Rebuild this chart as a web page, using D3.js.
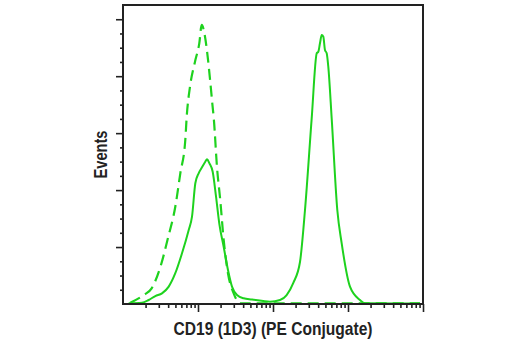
<!DOCTYPE html>
<html>
<head>
<meta charset="utf-8">
<script src="https://cdn.jsdelivr.net/npm/d3@7"></script>
<style>
    body { margin: 0; background: #fff; }
    .lbl { font-family: "Liberation Sans", Arial, sans-serif;
           font-weight: bold; fill: #222; }
</style>
</head>
<body>
<svg id="chart" width="520" height="350"></svg>
<script>
// CD19 (1D3) flow histogram, log x / linear counts
const xLabel = 'CD19 (1D3) (PE Conjugate)';
const yLabel = 'Events';

// stained sample (solid) : intensity, events
const stainedX = [1.19, 1.79, 2.2, 2.7, 3.31, 4.07, 4.98, 6.12, 7.52, 8.32, 9.21, 10.2, 11.3, 12.5, 13.2, 14.2,
    15.7, 17.4, 19.2, 22, 25.1, 28.4, 33.1, 40.6, 52.5, 91.2, 124, 152, 186, 229, 267, 328, 383, 402, 423,
    446, 469, 493, 520, 546, 606, 720, 824, 1063, 1445, 1686, 9120];
const stainedY = [0.5, 0.9, 2.8, 5.6, 7.5, 12.2, 21.6, 35.6, 52, 61.3, 84.8, 91.8, 96, 99.9, 101.6, 98.8,
    92.9, 75.4, 56.7, 40.2, 23.9, 12.2, 6.3, 4, 3.2, 1.6, 2.8, 6.3, 14.7, 29.5, 66, 130.4, 176.1, 177.2, 183.1,
    188.9, 187.7, 178.4, 176.1, 166.7, 130.4, 66, 42.6, 12.2, 2.8, 0.5, 0.3];

// isotype control (dashed)
const controlX = [1.25, 1.89, 2.41, 3.11, 4.02, 4.98, 5.81, 6.77, 7.07, 7.82, 9.12, 10.4, 11.2, 12.4, 13.3,
    14.5, 15.5, 16.3, 17.9, 19.8, 22, 25.1, 29.9, 36.6, 229, 9120];
const controlY = [0.9, 6.3, 11, 25.1, 47.3, 68.3, 91.8, 115.2, 131.5, 152.6, 170.2, 183.1, 196, 187.7, 176.1,
    157.3, 141, 129.2, 96.4, 73, 45, 21.6, 7.5, 0.5, 0.5, 0.5];

const yMajor = [40, 80, 120, 160, 200];

const margin = {top: 5, left: 123, right: 97, bottom: 46};
const width = 520 - margin.left - margin.right;
const height = 350 - margin.top - margin.bottom;
const green = '#1ed21e';

const svg = d3.select('#chart');
const g = svg.append('g').attr('transform', `translate(${margin.left},${margin.top})`);

const x = d3.scaleLog().domain([1, 1e4]).range([0, width]);
const y = d3.scaleLinear().domain([0, 210]).range([height, 0]);

// log ticks: 2..9 minor, decades major
var xMinor = [], xMaj = [];
[1, 10, 100, 1000].forEach(function(dec) {
    for (var k = 2; k <= 9; k++) xMinor.push(k * dec);
    xMaj.push(dec * 10);
});
var yMinor = d3.range(10, 210, 10).filter(d => d % 40 !== 0);

const line = d3.line()
    .x((d, i) => x(d[0]))
    .y(d => y(d[1]))
    .curve(d3.curveMonotoneX);

g.append('path')
    .datum(d3.zip(controlX, controlY))
    .attr('d', line)
    .attr('fill', 'none')
    .attr('stroke', green)
    .attr('stroke-width', 2.2)
    .attr('stroke-dasharray', '11,6');

g.append('path')
    .datum(d3.zip(stainedX, stainedY))
    .attr('d', line)
    .attr('fill', 'none')
    .attr('stroke', green)
    .attr('stroke-width', 2);

// axes
function axisStyle(sel) {
    sel.select('.domain').remove();
    sel.selectAll('line').attr('stroke', '#222').attr('stroke-width', 1.6);
    sel.selectAll('text').remove();
}

g.append('g').attr('transform', `translate(0,${height})`)
    .call(d3.axisBottom(x).tickValues(xMinor).tickSize(4).tickFormat(''))
    .call(axisStyle);
g.append('g').attr('transform', `translate(0,${height})`)
    .call(d3.axisBottom(x).tickValues(xMaj).tickSize(8).tickFormat(''))
    .call(axisStyle);
g.append('g')
    .call(d3.axisLeft(y).tickValues(yMinor).tickSize(3).tickFormat(''))
    .call(axisStyle);
g.append('g')
    .call(d3.axisLeft(y).tickValues(yMajor).tickSize(7).tickFormat(''))
    .call(axisStyle);

// frame
g.append('rect')
    .attr('width', width).attr('height', height)
    .attr('fill', 'none')
    .attr('stroke', '#222')
    .attr('stroke-width', 2);

// labels squeezed to look like a condensed face
g.append('text')
    .attr('class', 'lbl')
    .attr('x', width / 2).attr('y', height + 31)
    .attr('text-anchor', 'middle')
    .attr('font-size', 19)
    .attr('textLength', 199)
    .attr('lengthAdjust', 'spacingAndGlyphs')
    .text(xLabel);

g.append('text')
    .attr('class', 'lbl')
    .attr('transform', `translate(-16,${height / 2}) rotate(-90)`)
    .attr('text-anchor', 'middle')
    .attr('font-size', 18)
    .attr('textLength', 48)
    .attr('lengthAdjust', 'spacingAndGlyphs')
    .text(yLabel);
</script>
</body>
</html>
